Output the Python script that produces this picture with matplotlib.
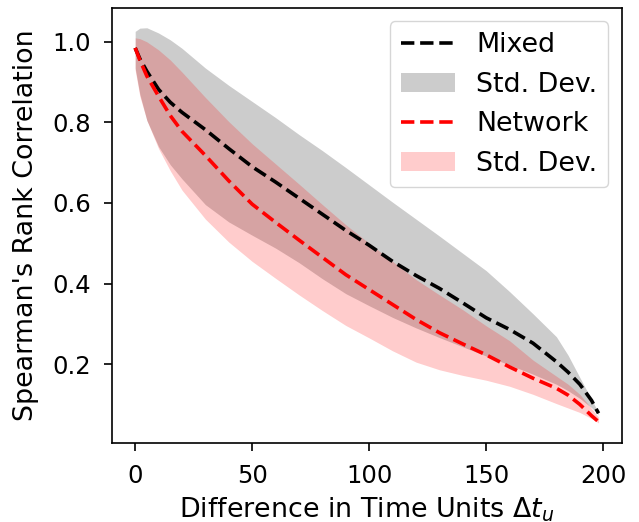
import matplotlib
matplotlib.use("Agg")
import matplotlib.pyplot as plt
import numpy as np

x = [0, 2, 5, 10, 15, 20, 30, 40, 50, 60, 70, 80, 90, 100, 110, 120, 130, 140, 150, 160, 170, 180, 185, 190, 195, 198]

mixed_mean = [0.985, 0.958, 0.927, 0.882, 0.850, 0.825, 0.782, 0.735, 0.690, 0.652, 0.612, 0.572, 0.532, 0.495, 0.455, 0.420, 0.388, 0.352, 0.315, 0.286, 0.252, 0.206, 0.180, 0.150, 0.110, 0.078]
mixed_upper = [1.026, 1.034, 1.035, 1.022, 1.005, 0.984, 0.935, 0.892, 0.852, 0.812, 0.770, 0.730, 0.688, 0.645, 0.602, 0.560, 0.518, 0.475, 0.432, 0.380, 0.325, 0.268, 0.222, 0.167, 0.112, 0.080]
mixed_lower = [0.935, 0.870, 0.805, 0.740, 0.695, 0.660, 0.596, 0.553, 0.520, 0.488, 0.452, 0.412, 0.375, 0.345, 0.316, 0.290, 0.266, 0.243, 0.220, 0.198, 0.175, 0.150, 0.134, 0.115, 0.092, 0.075]

network_mean = [0.985, 0.955, 0.915, 0.865, 0.817, 0.778, 0.718, 0.655, 0.597, 0.552, 0.508, 0.465, 0.422, 0.385, 0.348, 0.311, 0.278, 0.250, 0.223, 0.193, 0.165, 0.140, 0.123, 0.100, 0.072, 0.057]
network_upper = [1.010, 1.008, 1.000, 0.980, 0.955, 0.925, 0.862, 0.802, 0.747, 0.697, 0.647, 0.596, 0.546, 0.500, 0.455, 0.410, 0.372, 0.335, 0.295, 0.258, 0.210, 0.170, 0.150, 0.125, 0.090, 0.068]
network_lower = [0.930, 0.865, 0.805, 0.735, 0.680, 0.632, 0.560, 0.503, 0.455, 0.413, 0.372, 0.333, 0.296, 0.265, 0.233, 0.205, 0.186, 0.172, 0.160, 0.145, 0.125, 0.102, 0.091, 0.080, 0.065, 0.054]

plt.rcParams['font.family'] = ['DejaVu Sans']
fs_label = 19.4
fs_tick = 17.5

fig = plt.figure(figsize=(6.39, 5.22), dpi=100)
ax = fig.add_axes([112/639, 1 - 442.7/522, (621.7 - 112)/639, (442.7 - 8)/522])

ax.plot(x, mixed_mean, '--', color='k', lw=2.6, label='Mixed')
ax.fill_between(x, mixed_lower, mixed_upper, color='k', alpha=0.2, lw=0, label='Std. Dev.')
ax.plot(x, network_mean, '--', color='r', lw=2.6, label='Network')
ax.fill_between(x, network_lower, network_upper, color='r', alpha=0.2, lw=0, label='Std. Dev.')

ax.set_xticks([0, 50, 100, 150, 200])
ax.set_yticks([0.2, 0.4, 0.6, 0.8, 1.0])
ax.tick_params(labelsize=fs_tick, length=6, width=1.2, pad=9)
for s in ax.spines.values():
    s.set_linewidth(1.2)
ax.set_xlabel(r"Difference in Time Units $\Delta t_u$", fontsize=fs_label, labelpad=6)
ax.set_ylabel("Spearman's Rank Correlation", fontsize=fs_label, labelpad=10)
ax.legend(loc='upper right', fontsize=fs_label, handlelength=2.0)

fig.savefig('out.png', dpi=100)
